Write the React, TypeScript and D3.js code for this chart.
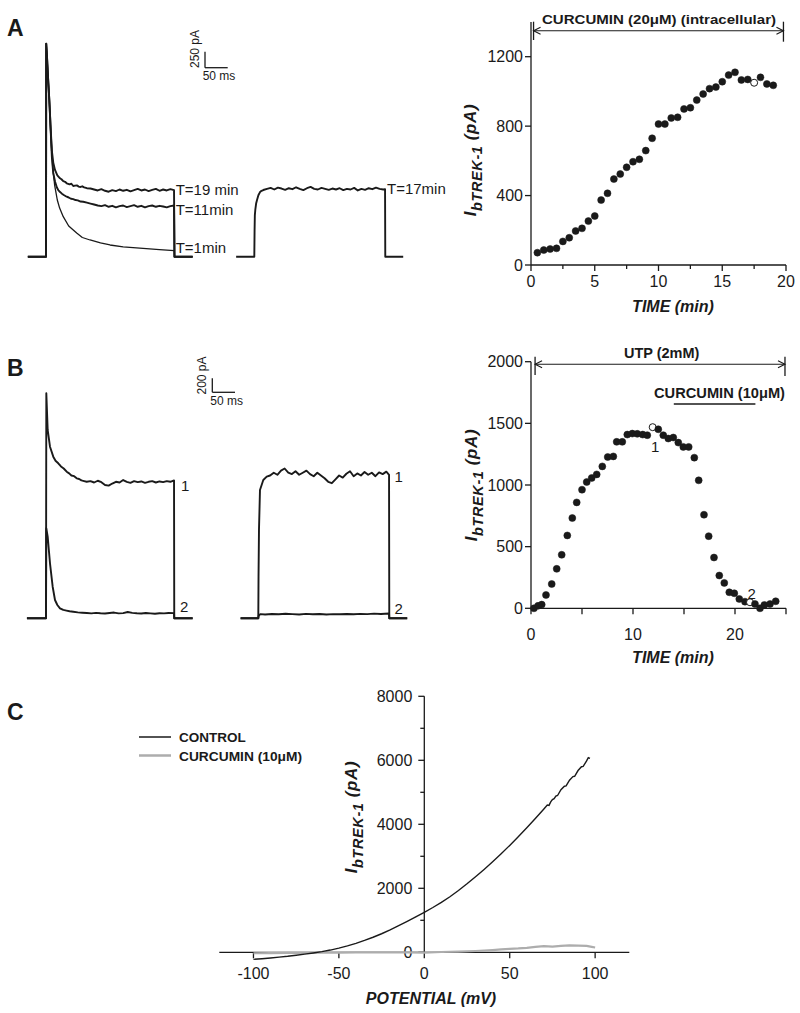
import React from 'react';
import * as d3 from 'd3';

const FONT = "'Liberation Sans', Arial, Helvetica, sans-serif";
const INK = '#1a1a1a';

// ---------- Panel A (right): I_bTREK-1 vs time, intracellular curcumin ----------
const timeA = [0.5, 1, 1.5, 2, 2.5, 3, 3.5, 4, 4.5, 5, 5.5, 6, 6.5, 7, 7.5, 8, 8.5, 9, 9.5, 10, 10.5, 11, 11.5, 12, 12.5, 13, 13.5, 14, 14.5, 15, 15.5, 16, 16.5, 17, 17.5, 18, 18.5, 19];
const currentA = [71, 86, 92, 96, 136, 157, 196, 211, 253, 282, 374, 413, 495, 524, 563, 595, 609, 659, 730, 812, 812, 847, 851, 899, 906, 950, 985, 1016, 1025, 1056, 1094, 1110, 1066, 1069, 1050, 1081, 1043, 1035];
const openTimesA = [17.5];
const bracketA = [0.2, 19.8];
const ticksAX = [0, 2.5, 5, 7.5, 10, 12.5, 15, 17.5, 20];
const labelsAX = [0, 5, 10, 15, 20];
const ticksAY = [0, 400, 800, 1200];

// ---------- Panel B (right): UTP + curcumin ----------
const timeB = [0.29, 0.69, 1.05, 1.47, 2.03, 2.52, 3.01, 3.56, 4.05, 4.48, 5.0, 5.46, 5.95, 6.44, 6.99, 7.52, 8.07, 8.4, 8.95, 9.44, 9.93, 10.42, 10.95, 11.4, 11.93, 12.48, 12.97, 13.46, 13.95, 14.44, 14.93, 15.46, 16.01, 16.44, 16.96, 17.42, 17.94, 18.46, 18.95, 19.44, 19.93, 20.42, 20.98, 21.47, 21.96, 22.45, 22.88, 23.43, 23.99];
const currentB = [0, 20, 30, 108, 197, 320, 434, 591, 732, 859, 962, 1024, 1057, 1086, 1151, 1227, 1232, 1350, 1350, 1409, 1417, 1415, 1409, 1404, 1469, 1452, 1404, 1377, 1385, 1344, 1309, 1309, 1222, 1038, 759, 585, 412, 266, 206, 130, 122, 76, 54, 49, 35, 0, 27, 35, 57];
const openTimesB = [11.93, 21.47];
const bracketB = [0.4, 24.9];
const curcuminB = [14, 22];
const ticksBX = [0, 5, 10, 15, 20, 25];
const labelsBX = [0, 10, 20];
const ticksBY = [0, 500, 1000, 1500, 2000];

// ---------- Panel C: I-V relationship ----------
const controlIV: number[][] = [
  [-100, -220], [-95, -200], [-90, -178], [-85, -152], [-80, -125], [-75, -92], [-70, -57], [-65, -20], [-60, 20],
  [-55, 70], [-50, 130], [-45, 200], [-40, 280], [-35, 370], [-30, 470], [-25, 580], [-20, 700], [-15, 830],
  [-10, 965], [-5, 1105], [0, 1250], [5, 1400], [10, 1560], [15, 1735], [20, 1930], [25, 2140], [30, 2360],
  [35, 2590], [40, 2830], [45, 3080], [50, 3340], [55, 3610], [60, 3890], [65, 4180], [70, 4480], [72, 4600],
  [73, 4590], [74, 4700], [75, 4770], [76, 4800], [77, 4880], [78, 4900], [80, 5080], [82, 5190], [83, 5200],
  [85, 5380], [87, 5490], [88, 5500], [90, 5680], [92, 5800], [93, 5810], [95, 5980], [96, 6080], [97, 6060]
];
const curcuminIV: number[][] = [
  [-100, -30], [-90, -25], [-80, -20], [-70, -15], [-60, -10], [-50, -8], [-40, -5], [-30, -5], [-20, 0], [-10, 0],
  [0, -10], [10, 10], [20, 20], [30, 40], [40, 70], [45, 90], [50, 110], [55, 120], [60, 140], [65, 170], [70, 190],
  [75, 180], [80, 200], [85, 215], [90, 210], [95, 200], [98, 170], [100, 150]
];
const ticksCX = [-100, -50, 0, 50, 100];
const ticksCY = [0, 1000, 2000, 3000, 4000, 5000, 6000, 7000, 8000];
const labelsCY = [0, 2000, 4000, 6000, 8000];

// ---------- Current traces (time in ms, current in pA) ----------
const traceA_T1: number[][] = [
  [-40, 0], [0, 0], [0.5, 3330], [2, 3150], [4.5, 2800], [7.3, 2448], [10.4, 1933], [14.8, 1402], [19, 1120], [24.9, 886],
  [30, 760], [38, 625], [50, 480], [67.6, 370], [80, 300], [97, 261], [120, 215], [141, 183], [170, 155], [213.7, 131],
  [250, 110], [282.6, 94], [283, 0], [323, 0]
];
const traceA_T11: number[][] = [
  [-40, 0], [0, 0], [0.5, 3330], [2, 3150], [4.5, 2800], [7.3, 2448], [10.4, 1960], [13, 1550], [16, 1303], [20, 1170],
  [24, 1080], [27, 1042], [31, 1010], [35, 985], [40, 960], [45.6, 937], [50, 925], [55, 905], [60, 900], [65, 885],
  [70, 880], [76, 862], [82, 859], [90, 845], [98, 830], [106, 815], [114, 800], [122, 790], [130, 805], [138, 780],
  [146, 795], [154, 770], [162, 790], [170, 800], [178, 775], [186, 790], [194, 805], [202, 780], [210, 795], [218, 770],
  [226, 790], [234, 800], [242, 780], [250, 795], [258, 785], [266, 770], [274, 790], [282, 800], [283, 0], [323, 0]
];
const traceA_T19: number[][] = [
  [-40, 0], [0, 0], [0.5, 3330], [2, 3150], [4.5, 2800], [7.3, 2448], [10.4, 1990], [13, 1650], [16, 1470], [19.8, 1355],
  [25, 1270], [30.8, 1225], [34, 1210], [38, 1180], [42, 1170], [45.6, 1147], [52, 1130], [56, 1140], [60, 1105],
  [64, 1110], [68, 1115], [72, 1095], [76, 1090], [80, 1100], [84, 1084], [90, 1070], [98, 1065], [106, 1050],
  [114, 1035], [122, 1055], [130, 1030], [138, 1015], [146, 1040], [154, 1025], [162, 1050], [170, 1030], [178, 1045],
  [186, 1020], [194, 1040], [202, 1060], [210, 1035], [218, 1050], [226, 1025], [234, 1045], [242, 1060], [250, 1030],
  [258, 1050], [266, 1035], [274, 1055], [282, 1040], [283, 0], [323, 0]
];
const traceA_T17: number[][] = [
  [-40, 0], [0, 0], [0.6, 400], [1.2, 650], [2.2, 730], [4, 830], [6, 886], [9, 960], [12.6, 1010], [16, 1030], [19.8, 1042],
  [28, 1060], [36, 1075], [44, 1050], [52, 1080], [60, 1065], [68, 1045], [76, 1070], [84, 1055], [92, 1085], [100, 1060],
  [108, 1040], [116, 1070], [124, 1090], [132, 1060], [140, 1050], [148, 1075], [156, 1060], [164, 1045], [172, 1065],
  [180, 1050], [188, 1070], [196, 1040], [204, 1060], [212, 1050], [220, 1075], [228, 1035], [236, 1060], [244, 1045],
  [252, 1070], [260, 1055], [268, 1080], [276, 1060], [284, 1050], [288, 1055], [288.5, 0], [328, 0]
];
const traceB_L1: number[][] = [
  [-42, 0], [0, 0], [0.7, 3214], [3.7, 2690], [8.8, 2451], [16, 2309], [21, 2250], [27, 2214], [33, 2170], [39, 2140],
  [45.6, 2094], [51, 2070], [56, 2040], [62, 2030], [67.6, 2000], [73, 1990], [78, 1970], [84, 1960], [89.6, 1951],
  [98, 1960], [106, 1940], [114, 1965], [122, 1945], [130, 1905], [138, 1895], [146, 1925], [154, 1950], [162, 1940],
  [170, 1975], [178, 1950], [186, 1935], [194, 1960], [202, 1945], [210, 1955], [218, 1935], [226, 1950], [234, 1960],
  [242, 1940], [250, 1955], [258, 1945], [266, 1960], [274, 1950], [282, 1970], [282.5, 0], [323, 0]
];
const traceB_L2: number[][] = [
  [-42, 0], [0, 0], [0.7, 1286], [3.7, 1166], [8.8, 786], [14.7, 451], [19.8, 261], [25, 190], [30.8, 143], [38, 120],
  [45, 110], [52, 100], [60, 94], [70, 85], [80, 80], [90, 75], [100, 70], [110, 78], [120, 72], [130, 68], [140, 75],
  [150, 82], [160, 70], [170, 74], [180, 90], [190, 78], [200, 72], [210, 68], [220, 75], [230, 70], [240, 66],
  [250, 72], [260, 70], [270, 76], [282, 74], [282.5, 0], [323, 0]
];
const traceB_R1: number[][] = [
  [-39, 0], [0, 0], [0.5, 600], [1.5, 1261], [3.7, 1833], [11, 1976], [18.5, 2023], [26, 2040], [34, 2080], [42, 2050],
  [50, 2110], [58, 2140], [66, 2080], [74, 2060], [82, 2100], [90, 2050], [98, 2080], [106, 2110], [114, 2060],
  [122, 2030], [130, 2080], [138, 2040], [146, 2000], [154, 1950], [162, 1930], [170, 1985], [178, 2040], [186, 2010],
  [194, 2065], [202, 2100], [210, 2030], [218, 2070], [226, 2040], [234, 2090], [242, 2050], [250, 2080], [258, 2030],
  [266, 2085], [274, 2060], [282, 2095], [288, 2050], [288.5, 0], [328, 0]
];
const traceB_R2: number[][] = [
  [-39, 0], [0, 0], [1, 40], [5, 60], [15, 55], [30, 62], [45, 58], [60, 66], [75, 60], [90, 55], [105, 63], [120, 58],
  [135, 62], [150, 55], [165, 60], [180, 57], [195, 62], [210, 58], [225, 63], [240, 60], [255, 67], [270, 62],
  [288, 68], [288.5, 0], [328, 0]
];

// ---------- scales ----------
const xA = d3.scaleLinear().domain([0, 20]).range([531, 786]);
const yA = d3.scaleLinear().domain([0, 1200]).range([265, 56.7]);
const xB = d3.scaleLinear().domain([0, 25]).range([531, 786]);
const yB = d3.scaleLinear().domain([0, 2000]).range([608.3, 361.7]);
const xC = d3.scaleLinear().domain([-120, 120]).range([219.3, 629.3]);
const yC = d3.scaleLinear().domain([0, 8000]).range([952.3, 696.3]);

const msPx = 22.7 / 50;
const tScale = (origin: number) => d3.scaleLinear().domain([0, 50]).range([origin, origin + 50 * msPx]);
const iScale = (base: number, pxPerBar: number, bar: number) => d3.scaleLinear().domain([0, bar]).range([base, base - pxPerBar]);

const tAL = tScale(46), tAR = tScale(254.3), tBL = tScale(46), tBR = tScale(258.3);
const iA = iScale(256.7, 16, 250);
const iB = iScale(618.3, 14, 200);

function tracePath(data: number[][], xs: d3.ScaleLinear<number, number>, ys: d3.ScaleLinear<number, number>) {
  return d3.line<number[]>().x(d => xs(d[0])).y(d => ys(d[1]))(data) || '';
}

function Arrow({ x1, x2, y }: { x1: number; x2: number; y: number }) {
  const h = 7, w = 3.5;
  return (
    <g stroke={INK} strokeWidth={1.1} fill="none">
      <line x1={x1} x2={x2} y1={y} y2={y} />
      <polyline points={`${x1 + h},${y - w} ${x1},${y} ${x1 + h},${y + w}`} />
      <polyline points={`${x2 - h},${y - w} ${x2},${y} ${x2 - h},${y + w}`} />
    </g>
  );
}

function YTitle({ x, y }: { x: number; y: number }) {
  return (
    <text transform={`translate(${x},${y}) rotate(-90)`} textAnchor="middle" fontFamily={FONT}
      fontStyle="italic" fontWeight="bold" fill={INK} letterSpacing={0.6}>
      <tspan fontSize={17}>I</tspan>
      <tspan fontSize={14.5} dy={6}>bTREK-1</tspan>
      <tspan fontSize={17} dy={-6}> (pA)</tspan>
    </text>
  );
}

function Dots({ ts, vs, opens, xs, ys }: { ts: number[]; vs: number[]; opens: number[]; xs: any; ys: any }) {
  return (
    <g>
      {ts.map((t, i) => {
        const open = opens.includes(t);
        return <circle key={i} cx={xs(t)} cy={ys(vs[i])} r={3.5} fill={open ? '#fff' : INK} stroke={INK} strokeWidth={open ? 1 : 0.5} />;
      })}
    </g>
  );
}

export default function App() {
  const ax = { stroke: INK, strokeWidth: 1.3 };
  const tickText = { fontFamily: FONT, fontSize: 16, fill: INK };
  const title = { fontFamily: FONT, fontSize: 16, fontWeight: 'bold' as const, fontStyle: 'italic' as const, fill: INK };
  const traceLbl = { fontFamily: FONT, fontSize: 15, fill: INK };
  const traceStyle = { fill: 'none', stroke: INK, strokeWidth: 1.9, strokeLinejoin: 'round' as const };

  return (
    <svg width={800} height={1013} style={{ position: 'absolute', left: 0, top: 0, background: '#fff' }}>
      <rect x={0} y={0} width={800} height={1013} fill="#fff" />

      {/* panel letters */}
      <text x={7} y={36} fontFamily={FONT} fontSize={23} fontWeight="bold" fill={INK}>A</text>
      <text x={7} y={376} fontFamily={FONT} fontSize={23} fontWeight="bold" fill={INK}>B</text>
      <text x={7} y={720} fontFamily={FONT} fontSize={23} fontWeight="bold" fill={INK}>C</text>

      {/* ===== Panel A traces ===== */}
      <g>
        <path d={tracePath(traceA_T1, tAL, iA)} {...traceStyle} strokeWidth={1.3} />
        <path d={tracePath(traceA_T11, tAL, iA)} {...traceStyle} />
        <path d={tracePath(traceA_T19, tAL, iA)} {...traceStyle} />
        <path d={tracePath(traceA_T17, tAR, iA)} {...traceStyle} />
        <text x={175.7} y={194.5} {...traceLbl}>T=19 min</text>
        <text x={175.7} y={214.5} {...traceLbl}>T=11min</text>
        <text x={175.7} y={253} {...traceLbl}>T=1min</text>
        <text x={387} y={193.5} {...traceLbl}>T=17min</text>
        {/* scale bar */}
        <g stroke={INK} strokeWidth={1.3} fill="none">
          <line x1={205} x2={205} y1={iA(0) - 189} y2={iA(250) - 189} />
          <line x1={205} x2={205 + (tAL(50) - tAL(0))} y1={iA(0) - 189} y2={iA(0) - 189} />
        </g>
        <text transform="translate(198.5,49) rotate(-90)" textAnchor="middle" fontFamily={FONT} fontSize={12} fill={INK}>250 pA</text>
        <text x={219} y={80} textAnchor="middle" fontFamily={FONT} fontSize={12} fill={INK}>50 ms</text>
      </g>

      {/* ===== Panel A scatter ===== */}
      <g>
        <line x1={xA(0)} x2={xA(20)} y1={yA(0)} y2={yA(0)} {...ax} />
        <line x1={xA(0)} x2={xA(0)} y1={yA(0)} y2={yA(1400)} {...ax} />
        {ticksAX.map(t => <line key={t} x1={xA(t)} x2={xA(t)} y1={yA(0)} y2={yA(0) + (t % 5 === 0 ? 6 : 4)} {...ax} />)}
        {labelsAX.map(t => <text key={t} x={xA(t)} y={287} textAnchor="middle" {...tickText}>{t}</text>)}
        {ticksAY.map(v => <line key={v} x1={xA(0) - 6} x2={xA(0)} y1={yA(v)} y2={yA(v)} {...ax} />)}
        {ticksAY.map(v => <text key={v} x={xA(0) - 8} y={yA(v) + 5.5} textAnchor="end" {...tickText}>{v}</text>)}
        <text x={673} y={312} textAnchor="middle" {...title}>TIME (min)</text>
        <YTitle x={476} y={160} />
        <line x1={xA(bracketA[0])} x2={xA(bracketA[0])} y1={21.7} y2={40} {...ax} />
        <line x1={xA(bracketA[1])} x2={xA(bracketA[1])} y1={21.7} y2={41.7} {...ax} />
        <Arrow x1={xA(bracketA[0])} x2={xA(bracketA[1])} y={30.7} />
        <text x={659} y={23.5} textAnchor="middle" fontFamily={FONT} fontSize={13} fontWeight="bold" fill={INK}
          textLength={234} lengthAdjust="spacingAndGlyphs">CURCUMIN (20μM) (intracellular)</text>
        <Dots ts={timeA} vs={currentA} opens={openTimesA} xs={xA} ys={yA} />
      </g>

      {/* ===== Panel B traces ===== */}
      <g>
        <path d={tracePath(traceB_L1, tBL, iB)} {...traceStyle} />
        <path d={tracePath(traceB_L2, tBL, iB)} {...traceStyle} />
        <path d={tracePath(traceB_R1, tBR, iB)} {...traceStyle} />
        <path d={tracePath(traceB_R2, tBR, iB)} {...traceStyle} />
        <text x={181} y={490.5} {...traceLbl}>1</text>
        <text x={180} y={612} {...traceLbl}>2</text>
        <text x={394.5} y={482} {...traceLbl}>1</text>
        <text x={394.5} y={613.5} {...traceLbl}>2</text>
        <g stroke={INK} strokeWidth={1.3} fill="none">
          <line x1={212.3} x2={212.3} y1={iB(0) - 226} y2={iB(200) - 226} />
          <line x1={212.3} x2={212.3 + (tBL(50) - tBL(0))} y1={iB(0) - 226} y2={iB(0) - 226} />
        </g>
        <text transform="translate(206,375.5) rotate(-90)" textAnchor="middle" fontFamily={FONT} fontSize={12} fill={INK}>200 pA</text>
        <text x={226.7} y={405} textAnchor="middle" fontFamily={FONT} fontSize={12} fill={INK}>50 ms</text>
      </g>

      {/* ===== Panel B scatter ===== */}
      <g>
        <line x1={xB(0)} x2={xB(25)} y1={yB(0)} y2={yB(0)} {...ax} />
        <line x1={xB(0)} x2={xB(0)} y1={yB(0)} y2={yB(2000)} {...ax} />
        {ticksBX.map(t => <line key={t} x1={xB(t)} x2={xB(t)} y1={yB(0)} y2={yB(0) + 6} {...ax} />)}
        {labelsBX.map(t => <text key={t} x={xB(t)} y={640} textAnchor="middle" {...tickText}>{t}</text>)}
        {ticksBY.map(v => <line key={v} x1={xB(0) - 6} x2={xB(0)} y1={yB(v)} y2={yB(v)} {...ax} />)}
        {ticksBY.map(v => <text key={v} x={xB(0) - 8} y={yB(v) + 5.5} textAnchor="end" {...tickText}>{v}</text>)}
        <text x={673} y={663} textAnchor="middle" {...title}>TIME (min)</text>
        <YTitle x={477} y={485} />
        <line x1={xB(bracketB[0])} x2={xB(bracketB[0])} y1={356.7} y2={375} {...ax} />
        <line x1={xB(bracketB[1])} x2={xB(bracketB[1])} y1={356.7} y2={376} {...ax} />
        <Arrow x1={xB(bracketB[0])} x2={xB(bracketB[1])} y={364.3} />
        <text x={661.7} y={358} textAnchor="middle" fontFamily={FONT} fontSize={14.5} fontWeight="bold" fill={INK}>UTP (2mM)</text>
        <text x={719.5} y={397.5} textAnchor="middle" fontFamily={FONT} fontSize={14} fontWeight="bold" fill={INK}
          textLength={131} lengthAdjust="spacingAndGlyphs">CURCUMIN (10μM)</text>
        <line x1={xB(curcuminB[0])} x2={xB(curcuminB[1])} y1={404} y2={404} {...ax} />
        <Dots ts={timeB} vs={currentB} opens={openTimesB} xs={xB} ys={yB} />
        <text x={651} y={452} {...traceLbl}>1</text>
        <text x={747.5} y={598.5} {...traceLbl}>2</text>
      </g>

      {/* ===== Panel C ===== */}
      <g>
        <line x1={xC(-120)} x2={xC(120)} y1={yC(0)} y2={yC(0)} {...ax} />
        <line x1={xC(0)} x2={xC(0)} y1={yC(0)} y2={yC(8000)} {...ax} />
        {ticksCX.map(t => <line key={t} x1={xC(t)} x2={xC(t)} y1={yC(0)} y2={yC(0) + 6} {...ax} />)}
        {ticksCX.map(t => <text key={t} x={xC(t)} y={979} textAnchor="middle" {...tickText}>{t}</text>)}
        {ticksCY.map(v => <line key={v} x1={xC(0) - (v % 2000 === 0 ? 6 : 4)} x2={xC(0)} y1={yC(v)} y2={yC(v)} {...ax} />)}
        {labelsCY.map(v => <text key={v} x={xC(0) - 12} y={yC(v) + 5.5} textAnchor="end" {...tickText}>{v}</text>)}
        <path d={d3.line<number[]>().x(d => xC(d[0])).y(d => yC(d[1]))(curcuminIV) || ''} fill="none" stroke="#adadad" strokeWidth={2.2} />
        <path d={d3.line<number[]>().x(d => xC(d[0])).y(d => yC(d[1]))(controlIV) || ''} fill="none" stroke={INK} strokeWidth={1.4} />
        <text x={431} y={1004} textAnchor="middle" {...title}>POTENTIAL (mV)</text>
        <YTitle x={357} y={817} />
        {/* legend */}
        <line x1={139} x2={171} y1={737} y2={737} stroke={INK} strokeWidth={1.5} />
        <line x1={139} x2={171} y1={755.5} y2={755.5} stroke="#adadad" strokeWidth={2.5} />
        <text x={179} y={742} fontFamily={FONT} fontSize={13.5} fontWeight="bold" fill={INK}>CONTROL</text>
        <text x={179} y={761} fontFamily={FONT} fontSize={13.5} fontWeight="bold" fill={INK}
          textLength={123} lengthAdjust="spacingAndGlyphs">CURCUMIN (10μM)</text>
      </g>
    </svg>
  );
}
